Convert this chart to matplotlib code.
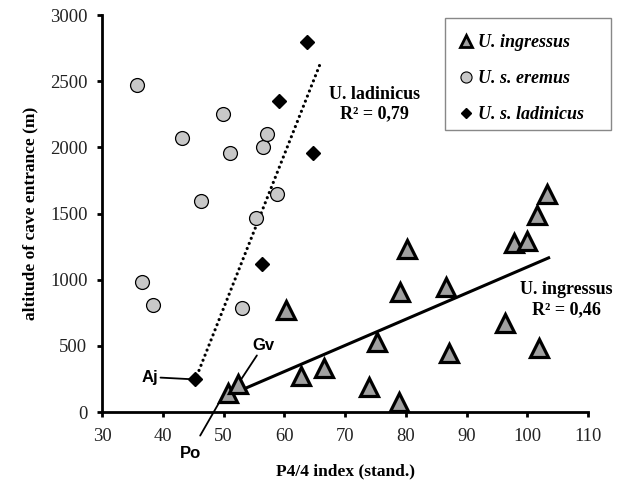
import numpy as np
import matplotlib.pyplot as plt
from matplotlib.lines import Line2D
from matplotlib.patches import Rectangle

# U. ingressus (triangles)
ingressus_x = [50.7, 52.3, 60.3, 62.7, 66.6, 74.0, 75.3, 78.9, 79.1, 80.2,
               86.6, 87.1, 96.4, 97.8, 100.0, 101.6, 103.3, 101.9]
ingressus_y = [141, 212, 771, 272, 330, 191, 531, 78, 909, 1230,
               943, 448, 675, 1280, 1292, 1489, 1648, 481]

# U. s. eremus (circles)
eremus_x = [35.7, 36.6, 38.4, 43.2, 46.3, 49.9, 51.1, 53.0, 55.4, 56.5, 57.2, 58.8]
eremus_y = [2472, 980, 810, 2071, 1592, 2250, 1960, 785, 1464, 2005, 2101, 1648]

# U. s. ladinicus (diamonds)
ladinicus_x = [45.3, 56.3, 59.2, 63.7, 64.7]
ladinicus_y = [247, 1119, 2353, 2799, 1960]

# trendline x ranges
ing_trend_x = [51.1, 103.5]
lad_trend_x = [45.3, 65.8]

serif = 'Liberation Serif'
sans = 'Liberation Sans'

fig = plt.figure(figsize=(6.24, 4.9), dpi=100)
ax = fig.add_axes([0.1635, 0.159, 0.779, 0.810])

# trendlines
p = np.polyfit(ingressus_x, ingressus_y, 1)
tx = np.array(ing_trend_x)
ax.plot(tx, np.polyval(p, tx), color='black', lw=2.2, zorder=2)

p2 = np.polyfit(ladinicus_x, ladinicus_y, 1)
tx2 = np.array(lad_trend_x)
ax.plot(tx2, np.polyval(p2, tx2), color='black', lw=2.3,
        linestyle=(0, (0.01, 1.7)), dash_capstyle='round', zorder=2)

ax.plot(eremus_x, eremus_y, 'o', ms=10, mfc='#c8c8c8', mec='black', mew=0.9, zorder=3)
ax.plot(ladinicus_x, ladinicus_y, 'D', ms=7.5, mfc='black', mec='black', zorder=3)
ax.plot(ingressus_x, ingressus_y, '^', ms=13, mfc='#a0a0a0', mec='black', mew=2.3, zorder=4)

ax.set_xlim(30, 110)
ax.set_ylim(0, 3000)
ax.set_xticks(range(30, 111, 10))
ax.set_yticks(range(0, 3001, 500))
for s in ['top', 'right']:
    ax.spines[s].set_visible(False)
for s in ['left', 'bottom']:
    ax.spines[s].set_linewidth(2)
ax.tick_params(width=2, length=3.5, labelsize=13.4, labelcolor='#222222')
ax.tick_params(axis='y', pad=7)
ax.tick_params(axis='x', pad=8)
for lab in ax.get_xticklabels() + ax.get_yticklabels():
    lab.set_fontfamily(serif)

ax.set_xlabel('P4/4 index (stand.)', fontfamily=serif, fontweight='bold', fontsize=12.5, labelpad=13)
ax.set_ylabel('altitude of cave entrance (m)', fontfamily=serif, fontweight='bold', fontsize=12.5, labelpad=8)

# trend labels
ax.text(74.9, 2330, 'U. ladinicus\nR² = 0,79', fontfamily=serif, fontweight='bold',
        fontsize=13, ha='center', va='center', linespacing=1.2)
ax.text(106.4, 850, 'U. ingressus\nR² = 0,46', fontfamily=serif, fontweight='bold',
        fontsize=13, ha='center', va='center', linespacing=1.2)

# site labels
arrow = dict(arrowstyle='-', color='black', lw=1.3, shrinkA=0, shrinkB=4)
ax.annotate('Aj', xy=(45.3, 247), xytext=(37.8, 265), fontfamily=sans, fontweight='bold',
            fontsize=12, ha='center', va='center', arrowprops=arrow)
ax.annotate('Gv', xy=(51.5, 150), xytext=(56.6, 506), fontfamily=sans, fontweight='bold',
            fontsize=12, ha='center', va='center', arrowprops=arrow)
ax.annotate('Po', xy=(50.5, 170), xytext=(44.5, -310), fontfamily=sans, fontweight='bold',
            fontsize=12, ha='center', va='center',
            arrowprops=dict(arrowstyle='-', color='black', lw=1.3, shrinkA=6, shrinkB=0),
            annotation_clip=False)

handles = [
    Line2D([], [], marker='^', ls='none', ms=9, mfc='#a0a0a0', mec='black', mew=2),
    Line2D([], [], marker='o', ls='none', ms=8, mfc='#c8c8c8', mec='black', mew=0.8),
    Line2D([], [], marker='D', ls='none', ms=5.5, mfc='black', mec='black'),
]
labels = ['U. ingressus', 'U. s. eremus', 'U. s. ladinicus']
fig.legend(handles, labels, loc='upper left', bbox_to_anchor=(457 / 624, 1 - 34 / 490),
           prop=dict(family=serif, weight='bold', style='italic', size=13),
           frameon=False, handletextpad=0.15, handlelength=1.0, labelspacing=1.05,
           borderpad=0, borderaxespad=0)
fig.patches.append(Rectangle((445 / 624, 1 - 130 / 490), 166 / 624, 112 / 490,
                             transform=fig.transFigure, fill=False,
                             edgecolor='#888888', lw=1))

fig.savefig('out.png', dpi=100)
